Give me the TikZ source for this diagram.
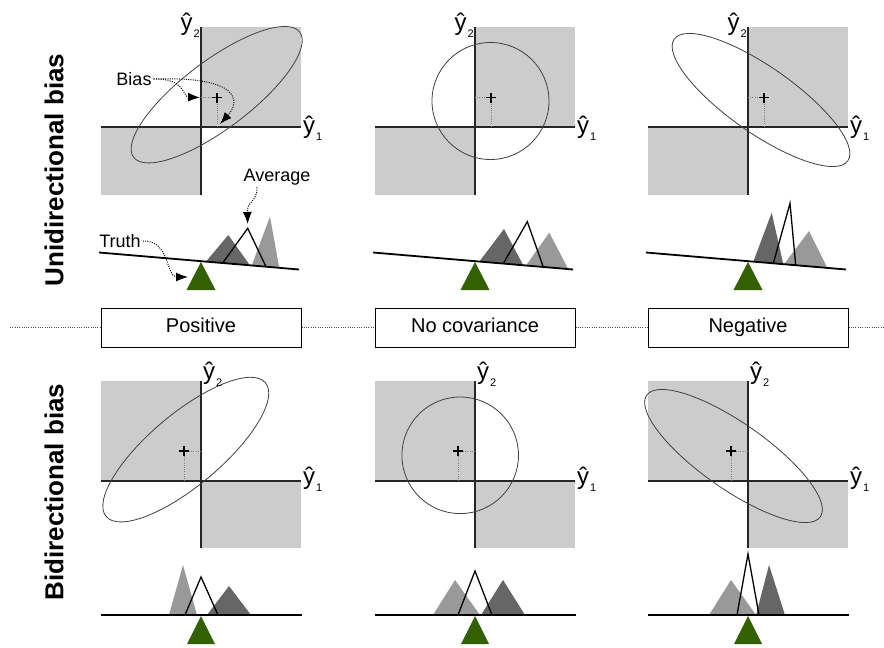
\documentclass[tikz,border=0pt]{standalone}
\usepackage{fontspec}
\setmainfont{Liberation Sans}
\usetikzlibrary{arrows.meta}
\definecolor{sqgray}{RGB}{204,204,204}
\definecolor{tdark}{RGB}{102,102,102}
\definecolor{tlight}{RGB}{153,153,153}
\definecolor{pivotgreen}{RGB}{51,96,0}
\newcommand\yhatlab[1]{ŷ\kern1pt\raisebox{-7pt}{\fontsize{11}{11}\selectfont #1}}
\begin{document}
\begin{tikzpicture}[x=1pt,y=-1pt,
  sq/.style={fill=sqgray},
  axisline/.style={draw=black!85, line width=1.2pt},
  ell/.style={draw=black!75, line width=0.8pt},
  proj/.style={draw=black!50, line width=0.9pt, dash pattern=on 1pt off 1.2pt},
  plusmark/.style={draw=black, line width=1.2pt},
  beam/.style={draw=black, line width=1.8pt},
  pivot/.style={fill=pivotgreen},
  darktri/.style={fill=tdark},
  lighttri/.style={fill=tlight},
  avgtri/.style={draw=black, line width=1.3pt, line join=miter},
  callout/.style={draw=black, line width=1pt, dash pattern=on 1pt off 1.3pt, -{Latex[length=12pt,width=9pt]}},
  note/.style={font=\fontsize{18}{21}\selectfont, inner sep=2pt},
  axlab/.style={font=\fontsize{24}{26}\selectfont, inner sep=0pt},
  casebox/.style={draw=black, line width=1pt, fill=white, minimum width=200pt, minimum height=39pt, inner sep=0pt, text height=14.5pt, text depth=4pt, font=\fontsize{20}{24}\selectfont},
  sepline/.style={draw=black!70, line width=1pt, dash pattern=on 1pt off 1.3pt},
  side/.style={font=\bfseries\fontsize{26}{30}\selectfont, rotate=90, inner sep=0pt}
]
\fill[white] (0,0) rectangle (884,648);
\useasboundingbox (0,0) rectangle (884,648);

% ---------- top-left panel ----------
\begin{scope}[shift={(201,127)}]
\fill[sq] (0,-100) rectangle (100,0);
\fill[sq] (-100,0) rectangle (0,68);
\draw[axisline] (-100,0) -- (100,0);
\draw[axisline] (0,-100) -- (0,68);
\draw[ell, rotate around={37:(15.7,-32.3)}] (15.7,-32.3) ellipse [x radius=104, y radius=34];
\draw[proj] (0,-29.5) -- (16,-29.5) -- (16,0);
\draw[plusmark] (11,-29.5) -- (21,-29.5) (16,-34.5) -- (16,-24.5);
\node[axlab, anchor=base east] (tly2) at (-1,-97) {\yhatlab{2}};
\node[axlab, anchor=base west] (tly1) at (102,6) {\yhatlab{1}};
\coordinate (tlb1) at (-1,-29.5);
\coordinate (tlb2) at (19,-3);
\end{scope}

% ---------- top-middle panel ----------
\begin{scope}[shift={(475,127)}]
\fill[sq] (0,-100) rectangle (100,0);
\fill[sq] (-100,0) rectangle (0,68);
\draw[axisline] (-100,0) -- (100,0);
\draw[axisline] (0,-100) -- (0,68);
\draw[ell] (15.5,-26) circle [radius=58.5];
\draw[proj] (0,-29.5) -- (16,-29.5) -- (16,0);
\draw[plusmark] (11,-29.5) -- (21,-29.5) (16,-34.5) -- (16,-24.5);
\node[axlab, anchor=base east] (tmy2) at (-1,-97) {\yhatlab{2}};
\node[axlab, anchor=base west] (tmy1) at (102,6) {\yhatlab{1}};
\end{scope}

% ---------- top-right panel ----------
\begin{scope}[shift={(748,127)}]
\fill[sq] (0,-100) rectangle (100,0);
\fill[sq] (-100,0) rectangle (0,68);
\draw[axisline] (-100,0) -- (100,0);
\draw[axisline] (0,-100) -- (0,68);
\draw[ell, rotate around={-35:(13,-27)}] (13,-27) ellipse [x radius=106, y radius=33];
\draw[proj] (0,-29.5) -- (16,-29.5) -- (16,0);
\draw[plusmark] (11,-29.5) -- (21,-29.5) (16,-34.5) -- (16,-24.5);
\node[axlab, anchor=base east] (try2) at (-1,-97) {\yhatlab{2}};
\node[axlab, anchor=base west] (try1) at (102,6) {\yhatlab{1}};
\end{scope}

% ---------- top seesaws ----------
\begin{scope}[shift={(201,0)}]
\fill[darktri] (5,261.6) -- (27.3,235) -- (49,265.4) -- cycle;
\fill[lighttri] (50.7,265.5) -- (69,216.7) -- (78.3,268.1) -- cycle;
\draw[avgtri] (21.7,263) -- (46.7,228.3) -- (65,266.7);
\draw[beam] (-102,252.5) -- (98,269.5);
\fill[pivot] (0,262) -- (-14.5,290) -- (14.5,290) -- cycle;
\coordinate (tlavg) at (46.7,224);
\coordinate (tltruth) at (-13,277);
\end{scope}
\begin{scope}[shift={(475,0)}]
\fill[darktri] (4.3,261.6) -- (29,229) -- (48.3,265.3) -- cycle;
\fill[lighttri] (51,265.5) -- (74.3,232.7) -- (93.3,269.1) -- cycle;
\draw[avgtri] (28.3,263.6) -- (52.3,221.7) -- (68.3,267);
\draw[beam] (-102,252.5) -- (98,269.5);
\fill[pivot] (0,262) -- (-14.5,290) -- (14.5,290) -- cycle;
\end{scope}
\begin{scope}[shift={(748,0)}]
\fill[darktri] (5.3,261.7) -- (23.7,212.7) -- (35.3,264.2) -- cycle;
\fill[lighttri] (36,264.3) -- (61,231) -- (79.3,267.9) -- cycle;
\draw[avgtri] (25.3,263.4) -- (42,203.3) -- (47.7,265.3);
\draw[beam] (-102,252.5) -- (98,269.5);
\fill[pivot] (0,262) -- (-14.5,290) -- (14.5,290) -- cycle;
\end{scope}

% ---------- callouts ----------
\node[note] (bias) at (134,79) {Bias};
\node[note] (average) at (277,177) {Average};
\node[note] (truth) at (120,241) {Truth};
\draw[callout] (bias.east) .. controls (185,78) and (183,97) .. (tlb1);
\draw[callout] (bias.east) .. controls (242,76) and (240,102) .. (tlb2);
\draw[callout] ([xshift=-20pt]average.south) .. controls (257,203) and (247,200) .. (tlavg);
\draw[callout] (truth.east) .. controls (170,240) and (166,277) .. (tltruth);

% ---------- middle row ----------
\node[casebox] (pos) at (201,327.5) {Positive};
\node[casebox] (nocov) at (475,327.5) {No covariance};
\node[casebox] (neg) at (748,327.5) {Negative};
\coordinate (sepL) at (10,327.5);
\coordinate (sepR) at (884,327.5);
\draw[sepline] (sepL) -- (pos.west);
\draw[sepline] (pos.east) -- (nocov.west);
\draw[sepline] (nocov.east) -- (neg.west);
\draw[sepline] (neg.east) -- (sepR);

\node[side] (uni) at (54,170) {Unidirectional bias};
\node[side] (bi) at (54,492) {Bidirectional bias};

% ---------- bottom-left panel ----------
\begin{scope}[shift={(201,481)}]
\fill[sq] (-100,-100) rectangle (0,0);
\fill[sq] (0,0) rectangle (100,67);
\draw[axisline] (-100,0) -- (100,0);
\draw[axisline] (0,-100) -- (0,67);
\draw[ell, rotate around={40:(-15.2,-31.4)}] (-15.2,-31.4) ellipse [x radius=104, y radius=36];
\draw[proj] (0,-30) -- (-17,-30) -- (-17,0);
\draw[plusmark] (-22,-30) -- (-12,-30) (-17,-35) -- (-17,-25);
\node[axlab, anchor=base west] (bly2) at (2,-102) {\yhatlab{2}};
\node[axlab, anchor=base west] (bly1) at (102,3) {\yhatlab{1}};
\end{scope}

% ---------- bottom-middle panel ----------
\begin{scope}[shift={(475,481)}]
\fill[sq] (-100,-100) rectangle (0,0);
\fill[sq] (0,0) rectangle (100,67);
\draw[axisline] (-100,0) -- (100,0);
\draw[axisline] (0,-100) -- (0,67);
\draw[ell] (-14.8,-25.7) circle [radius=58.3];
\draw[proj] (0,-30) -- (-17,-30) -- (-17,0);
\draw[plusmark] (-22,-30) -- (-12,-30) (-17,-35) -- (-17,-25);
\node[axlab, anchor=base west] (bmy2) at (2,-102) {\yhatlab{2}};
\node[axlab, anchor=base west] (bmy1) at (102,3) {\yhatlab{1}};
\end{scope}

% ---------- bottom-right panel ----------
\begin{scope}[shift={(748,481)}]
\fill[sq] (-100,-100) rectangle (0,0);
\fill[sq] (0,0) rectangle (100,67);
\draw[axisline] (-100,0) -- (100,0);
\draw[axisline] (0,-100) -- (0,67);
\draw[ell, rotate around={-35:(-14.5,-25)}] (-14.5,-25) ellipse [x radius=106, y radius=33];
\draw[proj] (0,-30) -- (-17,-30) -- (-17,0);
\draw[plusmark] (-22,-30) -- (-12,-30) (-17,-35) -- (-17,-25);
\node[axlab, anchor=base west] (bry2) at (2,-102) {\yhatlab{2}};
\node[axlab, anchor=base west] (bry1) at (102,3) {\yhatlab{1}};
\end{scope}

% ---------- bottom seesaws ----------
\begin{scope}[shift={(201,0)}]
\fill[lighttri] (-32,615) -- (-18,565) -- (-4,615) -- cycle;
\fill[darktri] (6,615) -- (28,586) -- (50,615) -- cycle;
\draw[avgtri] (-16,615) -- (0,577) -- (17,615);
\draw[beam] (-100,615) -- (101,615);
\fill[pivot] (0,616) -- (-14,644) -- (14,644) -- cycle;
\end{scope}
\begin{scope}[shift={(475,0)}]
\fill[lighttri] (-42,615) -- (-20,580) -- (5,615) -- cycle;
\fill[darktri] (6,615) -- (28,580) -- (50,615) -- cycle;
\draw[avgtri] (-17,615) -- (0,571) -- (17,615);
\draw[beam] (-100,615) -- (101,615);
\fill[pivot] (0,616) -- (-14,644) -- (14,644) -- cycle;
\end{scope}
\begin{scope}[shift={(748,0)}]
\fill[lighttri] (-39,615) -- (-17,580) -- (8,615) -- cycle;
\fill[darktri] (8,615) -- (21,565) -- (37,615) -- cycle;
\draw[avgtri] (-11,615) -- (0,554) -- (11,615);
\draw[beam] (-100,615) -- (101,615);
\fill[pivot] (0,616) -- (-14,644) -- (14,644) -- cycle;
\end{scope}
\end{tikzpicture}
\end{document}
